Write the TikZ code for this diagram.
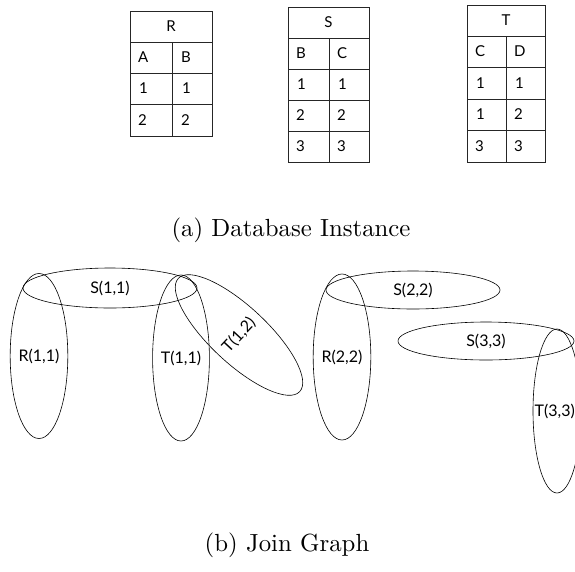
\documentclass[tikz,border=0pt]{standalone}
\usepackage{fontspec}
\newfontfamily\gsans{Lato}
\usetikzlibrary{shapes.geometric}
\tikzset{
  grid/.style={line width=0.8pt, draw=black!85},
  cell/.style={font=\gsans\fontsize{15}{17}\selectfont, anchor=west, inner sep=0pt},
  head/.style={font=\gsans\fontsize{15}{17}\selectfont, inner sep=0pt},
  tuple/.style={draw, ellipse, line width=0.6pt, inner sep=0pt,
    font=\gsans\fontsize{16}{18}\selectfont},
  tuplabel/.style={inner sep=0pt, font=\gsans\fontsize{16}{18}\selectfont},
  caption/.style={font=\fontsize{10}{12}\selectfont, scale=2.48}
}
\begin{document}
\begin{tikzpicture}[x=1pt,y=-1pt]
\useasboundingbox (0,0) rectangle (575,571);

% relation R(A,B)
\draw[grid] (130,11) rectangle (212,136);
\foreach \y in {42,73,104} \draw[grid] (130,\y) -- (212,\y);
\draw[grid] (172,42) -- (172,136);
\node[head] (Rh) at (171,26.5) {R};
\node[cell] (Ra) at (138,57.5) {A};
\node[cell] (Rb) at (181,57.5) {B};
\node[cell] (R1a) at (139,88.5) {1};
\node[cell] (R1b) at (182,88.5) {1};
\node[cell] (R2a) at (138,120) {2};
\node[cell] (R2b) at (181,120) {2};

% relation S(B,C)
\draw[grid] (288,7) rectangle (369,162);
\foreach \y in {38,69,100,131} \draw[grid] (288,\y) -- (369,\y);
\draw[grid] (329,38) -- (329,162);
\node[head] (Sh) at (328.5,22.5) {S};
\node[cell] (Sb) at (296,53.5) {B};
\node[cell] (Sc) at (337,53.5) {C};
\node[cell] (S1b) at (297,84.5) {1};
\node[cell] (S1c) at (338,84.5) {1};
\node[cell] (S2b) at (296,115.5) {2};
\node[cell] (S2c) at (337,115.5) {2};
\node[cell] (S3b) at (296,146.5) {3};
\node[cell] (S3c) at (337,146.5) {3};

% relation T(C,D)
\draw[grid] (467,5) rectangle (545,162);
\foreach \y in {36,67,99,130} \draw[grid] (467,\y) -- (545,\y);
\draw[grid] (506,36) -- (506,162);
\node[head] (Th) at (506,20.5) {T};
\node[cell] (Tc) at (475,51.5) {C};
\node[cell] (Td) at (514,51.5) {D};
\node[cell] (T1c) at (476,83) {1};
\node[cell] (T1d) at (515,83) {1};
\node[cell] (T2c) at (476,114.5) {1};
\node[cell] (T2d) at (514,114.5) {2};
\node[cell] (T3c) at (475,146) {3};
\node[cell] (T3d) at (514,146) {3};

\node[caption] (capa) at (291,230) {(a) Database Instance};

% join graph: one ellipse per tuple
\node[tuple, minimum width=174pt, minimum height=40pt] (s11) at (110,288) {S(1,1)};
\node[tuple, minimum width=48pt, minimum height=165pt] (r11) at (39,356) {R(1,1)};
\node[tuple, minimum width=46pt, minimum height=166pt] (t11) at (181,358) {T(1,1)};
\node[tuple, rotate=47, minimum width=46pt, minimum height=166pt] (t12) at (239,335) {T(1,2)};

\node[tuple, minimum width=174pt, minimum height=38pt] (s22) at (413,290) {S(2,2)};
\node[tuple, minimum width=48pt, minimum height=166pt] (r22) at (342,357) {R(2,2)};
\node[tuple, minimum width=176pt, minimum height=38pt] (s33) at (486,341) {S(3,3)};
\node[tuple, minimum width=48pt, minimum height=164pt] (t33) at (557,411) {};
\node[tuplabel, anchor=east] (t33l) at (575,411) {T(3,3)};

\node[caption] (capb) at (287,545) {(b) Join Graph};
\end{tikzpicture}
\end{document}
